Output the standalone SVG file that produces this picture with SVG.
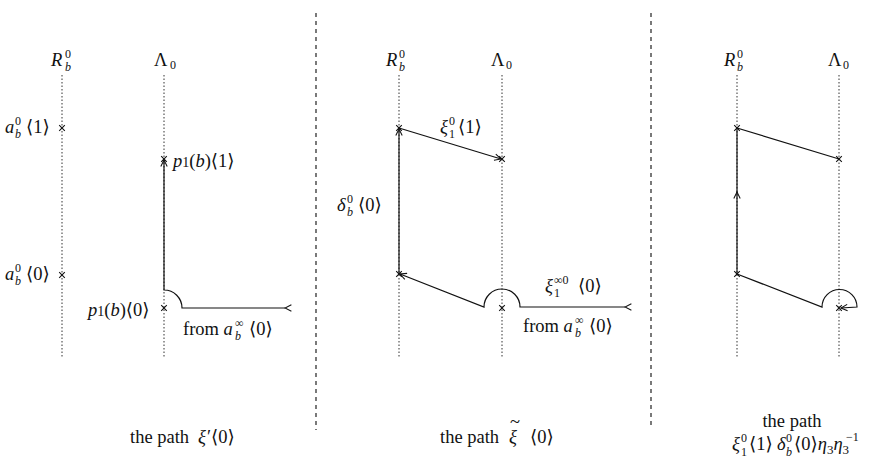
<svg xmlns="http://www.w3.org/2000/svg" width="875" height="462" viewBox="0 0 875 462">
<defs>
<style>
.t{font-family:'Liberation Serif','DejaVu Serif',serif;font-size:18.5px;fill:#111}
.i{font-style:italic}
.s{font-size:12px}
.dot{stroke:#333;stroke-width:1;stroke-dasharray:1.5 2;fill:none}
.sep{stroke:#222;stroke-width:1.2;stroke-dasharray:4 4;fill:none}
.p{stroke:#111;stroke-width:1.2;fill:none}
.x{stroke:#111;stroke-width:1.1;fill:none}
</style>
<marker id="arr" viewBox="0 0 10 10" refX="9" refY="5" markerWidth="8" markerHeight="8" markerUnits="userSpaceOnUse" orient="auto">
<path d="M1,1 L9,5 L1,9" fill="none" stroke="#111" stroke-width="1.3"/>
</marker>
<path id="cr" d="M-2.8,-2.8 L2.8,2.8 M-2.8,2.8 L2.8,-2.8"/>
</defs>
<rect width="875" height="462" fill="#fff"/>

<g id="separators">
<line class="sep" x1="316" y1="13" x2="316" y2="430"/>
<line class="sep" x1="651" y1="13" x2="651" y2="428"/>
</g>

<g id="axes">
<line class="dot" x1="62" y1="75" x2="62" y2="358"/>
<line class="dot" x1="164" y1="75" x2="164" y2="358"/>
<line class="dot" x1="399" y1="75" x2="399" y2="358"/>
<line class="dot" x1="502" y1="75" x2="502" y2="358"/>
<line class="dot" x1="737" y1="75" x2="737" y2="358"/>
<line class="dot" x1="839" y1="75" x2="839" y2="358"/>
</g>

<g id="headers">
<text class="t i" x="51" y="66">R</text><text class="t s" x="65" y="58">0</text><text class="t s i" x="65" y="71">b</text>
<text class="t" x="154" y="66">Λ</text><text class="t s" x="170" y="69">0</text>
<text class="t i" x="386" y="66">R</text><text class="t s" x="399" y="58">0</text><text class="t s i" x="399" y="71">b</text>
<text class="t" x="491" y="66">Λ</text><text class="t s" x="506" y="69">0</text>
<text class="t i" x="724" y="66">R</text><text class="t s" x="737" y="58">0</text><text class="t s i" x="737" y="71">b</text>
<text class="t" x="828" y="66">Λ</text><text class="t s" x="843" y="69">0</text>
</g>

<g id="connectors">
<path class="p" d="M285,308 H182 A18,18 0 0 0 164,290 V160" marker-start="url(#arr)" marker-end="url(#arr)"/>
<path class="p" d="M625,307 H520 A18,18 0 0 0 484,307 L400,274" marker-start="url(#arr)" marker-end="url(#arr)"/>
<path class="p" d="M399,274 V129" marker-end="url(#arr)"/>
<path class="p" d="M399,128 L501,159" marker-end="url(#arr)"/>
<path class="p" d="M737,274 V192" marker-end="url(#arr)"/>
<path class="p" d="M737,193 V128 L839,159"/>
<path class="p" d="M737,274 L822,307 A17.5,17.5 0 0 1 857,307 L841,308" marker-end="url(#arr)"/>
</g>

<g id="points">
<use href="#cr" class="x" x="62" y="128"/>
<use href="#cr" class="x" x="62" y="275"/>
<use href="#cr" class="x" x="164" y="159"/>
<use href="#cr" class="x" x="164" y="308"/>
<use href="#cr" class="x" x="399" y="128"/>
<use href="#cr" class="x" x="502" y="159"/>
<use href="#cr" class="x" x="399" y="274"/>
<use href="#cr" class="x" x="502" y="308"/>
<use href="#cr" class="x" x="737" y="128"/>
<use href="#cr" class="x" x="839" y="159"/>
<use href="#cr" class="x" x="737" y="274"/>
<use href="#cr" class="x" x="839" y="308"/>
</g>

<g id="labels-left">
<text class="t i" x="5" y="133">a</text><text class="t s" x="15" y="125">0</text><text class="t s i" x="15" y="138">b</text><text class="t" x="26" y="133">⟨1⟩</text>
<text class="t i" x="5" y="280">a</text><text class="t s" x="15" y="272">0</text><text class="t s i" x="15" y="285">b</text><text class="t" x="26" y="280">⟨0⟩</text>
<text class="t" x="173" y="167"><tspan class="i">p</tspan><tspan font-size="14">1</tspan>(<tspan class="i">b</tspan>)⟨1⟩</text>
<text class="t" x="88" y="316"><tspan class="i">p</tspan><tspan font-size="14">1</tspan>(<tspan class="i">b</tspan>)⟨0⟩</text>
<text class="t" x="183" y="335">from <tspan class="i">a</tspan></text><text class="t s" x="235" y="327">∞</text><text class="t s i" x="235" y="340">b</text><text class="t" x="249" y="335">⟨0⟩</text>
</g>

<g id="labels-middle">
<text class="t i" x="440" y="133">ξ</text><text class="t s" x="449" y="125">0</text><text class="t s" x="449" y="138">1</text><text class="t" x="458" y="133">⟨1⟩</text>
<text class="t i" x="337" y="211">δ</text><text class="t s" x="347" y="203">0</text><text class="t s i" x="347" y="216">b</text><text class="t" x="358" y="211">⟨0⟩</text>
<text class="t i" x="545" y="292">ξ</text><text class="t s" x="554" y="284">∞0</text><text class="t s" x="554" y="297">1</text><text class="t" x="578" y="292">⟨0⟩</text>
<text class="t" x="523" y="332">from <tspan class="i">a</tspan></text><text class="t s" x="575" y="324">∞</text><text class="t s i" x="575" y="337">b</text><text class="t" x="589" y="332">⟨0⟩</text>
</g>

<g id="captions">
<text class="t" x="130" y="443">the path</text><text class="t i" x="198" y="443">ξ</text><text class="t" x="207" y="443">′⟨0⟩</text>
<text class="t" x="440" y="443">the path</text><text class="t i" x="509" y="443">ξ</text><text class="t" x="510" y="428" font-size="13">~</text><text class="t" x="530" y="443">⟨0⟩</text>
<text class="t" x="792" y="427" text-anchor="middle">the path</text>
<text class="t i" x="732" y="450">ξ</text><text class="t s" x="741" y="442" font-size="11">0</text><text class="t s" x="741" y="456" font-size="11">1</text><text class="t" x="749" y="450">⟨1⟩</text>
<text class="t i" x="777" y="450">δ</text><text class="t s" x="786" y="442" font-size="11">0</text><text class="t s i" x="786" y="456" font-size="11">b</text><text class="t" x="794" y="450">⟨0⟩<tspan class="i">η</tspan><tspan font-size="13" dy="4">3</tspan><tspan class="i" dy="-4">η</tspan><tspan font-size="13" dy="4">3</tspan></text><text class="t s" x="846" y="441">−1</text>
</g>
</svg>
